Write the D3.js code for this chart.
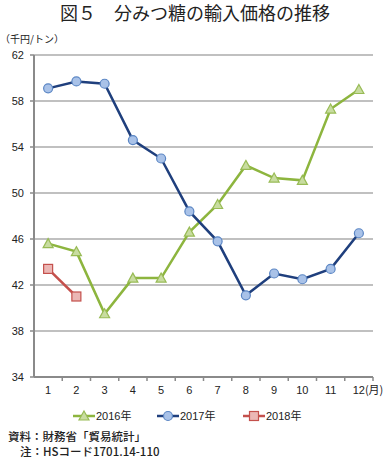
<!DOCTYPE html>
<html>
<head>
<meta charset="utf-8">
<script src="https://d3js.org/d3.v7.min.js"></script>
<style>
  body { margin: 0; background: #fff; }
  text { font-family: "Liberation Sans", "Noto Sans CJK JP", sans-serif; fill: #222; }
  .jp { font-family: "Noto Sans CJK JP", sans-serif; }
</style>
</head>
<body>
<svg width="387" height="458"></svg>
<script>
var months = ["1", "2", "3", "4", "5", "6", "7", "8", "9", "10", "11", "12"];
var yTicks = [34, 38, 42, 46, 50, 54, 58, 62];
var v2016 = [45.6, 44.9, 39.5, 42.6, 42.6, 46.6, 49.0, 52.4, 51.3, 51.1, 57.3, 59.0];
var v2017 = [59.1, 59.7, 59.5, 54.6, 53.0, 48.4, 45.8, 41.1, 43.0, 42.5, 43.4, 46.5];
var v2018 = [43.4, 41.0];

var series = [
    {name: "2016年", values: v2016, line: "#8db53e", fill: "#c8dca0", stroke: "#98bb55", shape: "tri"},
    {name: "2017年", values: v2017, line: "#1f3f7d", fill: "#a9c2e8", stroke: "#5b86c4", shape: "circle"},
    {name: "2018年", values: v2018, line: "#c4504c", fill: "#ebb7b5", stroke: "#c4504c", shape: "square"}
];

var svg = d3.select("svg");
var plotL = 34, plotR = 373, plotT = 55, plotB = 377;

var x = d3.scaleBand().domain(months).range([plotL, plotR]);
var y = d3.scaleLinear().domain([34, 62]).range([plotB, plotT]);

// title
svg.append("text").attr("class", "jp").attr("x", 195).attr("y", 20).attr("text-anchor", "middle")
    .style("font-size", "18px")
    .text("図５　分みつ糖の輸入価格の推移");
svg.append("text").attr("class", "jp").attr("x", 0).attr("y", 43).style("font-size", "10px")
    .text("（千円/トン）");

// grid
svg.append("g").selectAll("line").data(yTicks.slice(1)).enter().append("line")
    .attr("x1", plotL).attr("x2", plotR)
    .attr("y1", function (d) { return y(d); }).attr("y2", function (d) { return y(d); })
    .attr("stroke", "#ababab").attr("stroke-width", 1.5);

// y axis
svg.append("line").attr("x1", plotL).attr("x2", plotL).attr("y1", plotT).attr("y2", plotB)
    .attr("stroke", "#8a8a8a").attr("stroke-width", 2);
svg.append("g").selectAll("line").data(yTicks).enter().append("line")
    .attr("x1", plotL - 4).attr("x2", plotL)
    .attr("y1", function (d) { return y(d); }).attr("y2", function (d) { return y(d); })
    .attr("stroke", "#8a8a8a").attr("stroke-width", 1.5);
svg.append("g").selectAll("text").data(yTicks).enter().append("text")
    .attr("x", plotL - 10).attr("y", function (d) { return y(d) + 4; })
    .attr("text-anchor", "end").style("font-size", "11px")
    .text(function (d) { return d; });

// x axis
svg.append("line").attr("x1", plotL).attr("x2", plotR).attr("y1", plotB).attr("y2", plotB)
    .attr("stroke", "#8a8a8a").attr("stroke-width", 2);
svg.append("g").selectAll("line").data(months).enter().append("line")
    .attr("x1", function (d) { return x(d) + x.bandwidth(); })
    .attr("x2", function (d) { return x(d) + x.bandwidth(); })
    .attr("y1", plotB).attr("y2", plotB + 4)
    .attr("stroke", "#8a8a8a").attr("stroke-width", 1.5);
svg.append("g").selectAll("text").data(months).enter().append("text")
    .attr("x", function (d) { return x(d) + x.bandwidth() / 2; })
    .attr("y", plotB + 17).attr("text-anchor", "middle").style("font-size", "11px")
    .text(function (d) { return d; });
svg.append("text").attr("class", "jp").attr("x", x("12") + x.bandwidth() / 2 + 6).attr("y", plotB + 17)
    .style("font-size", "11px").text("(月)");

function drawMarker(g, shape, s) {
    if (shape === "circle") {
        g.append("circle").attr("r", 4.5)
            .attr("fill", s.fill).attr("stroke", s.stroke).attr("stroke-width", 1.2);
    } else if (shape === "tri") {
        g.append("path").attr("d", "M0,-5L5,4L-5,4Z")
            .attr("fill", s.fill).attr("stroke", s.stroke).attr("stroke-width", 1.2);
    } else {
        g.append("rect").attr("x", -4.5).attr("y", -4.5).attr("width", 9).attr("height", 9)
            .attr("fill", s.fill).attr("stroke", s.stroke).attr("stroke-width", 1.2);
    }
}

var line = d3.line()
    .x(function (d, i) { return x(months[i]) + x.bandwidth() / 2; })
    .y(function (d) { return y(d); });

series.forEach(function (s) {
    svg.append("path").datum(s.values).attr("d", line)
        .attr("fill", "none").attr("stroke", s.line).attr("stroke-width", 2.5);
    s.values.forEach(function (v, i) {
        var g = svg.append("g").attr("transform",
            "translate(" + (x(months[i]) + x.bandwidth() / 2) + "," + y(v) + ")");
        drawMarker(g, s.shape, s);
    });
});

// legend
var legX = [73, 157, 243];
series.forEach(function (s, i) {
    var g = svg.append("g").attr("transform", "translate(" + legX[i] + ",416)");
    g.append("line").attr("x1", 0).attr("x2", 22).attr("stroke", s.line).attr("stroke-width", 2.5);
    var m = g.append("g").attr("transform", "translate(11,0)");
    drawMarker(m, s.shape, s);
    g.append("text").attr("x", 23).attr("y", 4).style("font-size", "11px").text(s.name);
});

// notes
svg.append("text").attr("class", "jp").attr("x", 8).attr("y", 441).style("font-size", "11.5px").style("font-weight", "500")
    .text("資料：財務省「貿易統計」");
svg.append("text").attr("class", "jp").attr("x", 20).attr("y", 456).style("font-size", "11.5px").style("font-weight", "500")
    .text("注：HSコード1701.14-110");
</script>
</body>
</html>
